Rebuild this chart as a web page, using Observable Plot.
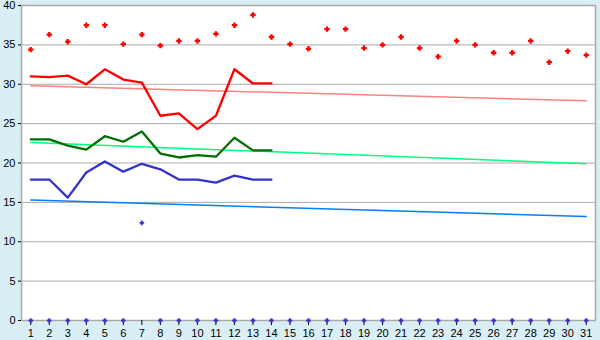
<!DOCTYPE html>
<html>
<head>
<meta charset="utf-8">
<script src="https://cdn.jsdelivr.net/npm/d3@7"></script>
<script src="https://cdn.jsdelivr.net/npm/@observablehq/plot@0.6"></script>
<style>
  body { margin: 0; background: #daeff5; }
  #chart svg { display: block; }
</style>
</head>
<body>
<div id="chart"></div>
<script>
// ---- data ----
const days = [1,2,3,4,5,6,7,8,9,10,11,12,13,14,15,16,17,18,19,20,21,22,23,24,25,26,27,28,29,30,31];
const yTicks = [0,5,10,15,20,25,30,35,40];
const maxPoints = [34.4,36.3,35.4,37.5,37.5,35.1,36.3,34.9,35.5,35.5,36.4,37.5,38.8,36.0,35.1,34.5,37.0,37.0,34.6,35.0,36.0,34.6,33.5,35.5,35.0,34.0,34.0,35.5,32.8,34.2,33.7];
const lineDays = [1,2,3,4,5,6,7,8,9,10,11,12,13,14];
const redLine = [31.0,30.9,31.1,30.0,31.9,30.6,30.2,26.0,26.3,24.3,26.0,31.9,30.1,30.1];
const greenLine = [23.0,23.0,22.2,21.7,23.4,22.7,24.0,21.2,20.7,21.0,20.8,23.2,21.6,21.6];
const blueLine = [17.9,17.9,15.6,18.8,20.2,18.9,19.9,19.2,17.9,17.9,17.5,18.4,17.9,17.9];
const bluePointDays = [1,2,3,4,5,6,7,8,9,10,11,12,13,14,15,16,17,18,19,20,21,22,23,24,25,26,27,28,29,30,31];
const bluePoints = [0,0,0,0,0,0,12.4,0,0,0,0,0,0,0,0,0,0,0,0,0,0,0,0,0,0,0,0,0,0,0,0];
const trendDays = [1,31];
const redTrend = [29.8,27.9];
const greenTrend = [22.6,19.9];
const blueTrend = [15.3,13.2];

// ---- build ----
const toRows = (xs, ys) => xs.map((x, i) => ({x, y: ys[i]}));

const crossSymbol = {
  draw(ctx, size) {
    const r = Math.sqrt(size / Math.PI);
    const a = r * 0.42;
    ctx.moveTo(-a, -r); ctx.lineTo(a, -r); ctx.lineTo(a, -a); ctx.lineTo(r, -a);
    ctx.lineTo(r, a); ctx.lineTo(a, a); ctx.lineTo(a, r); ctx.lineTo(-a, r);
    ctx.lineTo(-a, a); ctx.lineTo(-r, a); ctx.lineTo(-r, -a); ctx.lineTo(-a, -a);
    ctx.closePath();
  }
};

const chart = Plot.plot({
  width: 600,
  height: 340,
  marginLeft: 21,
  marginRight: 5,
  marginTop: 5,
  marginBottom: 20,
  style: { background: "#daeff5", fontFamily: "'Liberation Sans', Arial, sans-serif", fontSize: "11px", color: "#000" },
  x: { domain: [days[0] - 0.5, days[days.length - 1] + 0.5] },
  y: { domain: [0, 40] },
  marks: [
    Plot.frame({ fill: "white", stroke: "none" }),
    Plot.ruleY(yTicks, { stroke: "#aaaaaa", strokeWidth: 1 }),
    Plot.frame({ stroke: "#aaaaaa", strokeWidth: 1.5 }),
    Plot.axisY({ ticks: yTicks, tickSize: 3, tickPadding: 3, label: null, fontSize: 11 }),
    Plot.axisX({ ticks: days, tickFormat: d => String(d), tickSize: 5, tickPadding: 4, label: null, fontSize: 11 }),
    Plot.line(toRows(trendDays, redTrend), { x: "x", y: "y", stroke: "#ff8080", strokeWidth: 1.5 }),
    Plot.line(toRows(trendDays, greenTrend), { x: "x", y: "y", stroke: "#00ff80", strokeWidth: 1.5 }),
    Plot.line(toRows(trendDays, blueTrend), { x: "x", y: "y", stroke: "#0080ff", strokeWidth: 1.5 }),
    Plot.line(toRows(lineDays, redLine), { x: "x", y: "y", stroke: "#ff0000", strokeWidth: 2.3 }),
    Plot.line(toRows(lineDays, greenLine), { x: "x", y: "y", stroke: "#006e00", strokeWidth: 2.3 }),
    Plot.line(toRows(lineDays, blueLine), { x: "x", y: "y", stroke: "#3333cc", strokeWidth: 2.3 }),
    Plot.dot(toRows(days, maxPoints), { x: "x", y: "y", r: 2.7, symbol: crossSymbol, fill: "#ff0000", stroke: "none" }),
    Plot.dot(toRows(bluePointDays, bluePoints), { x: "x", y: "y", r: 2.3, symbol: crossSymbol, fill: "#3333cc", stroke: "none" })
  ]
});
document.getElementById("chart").append(chart);
</script>
</body>
</html>
